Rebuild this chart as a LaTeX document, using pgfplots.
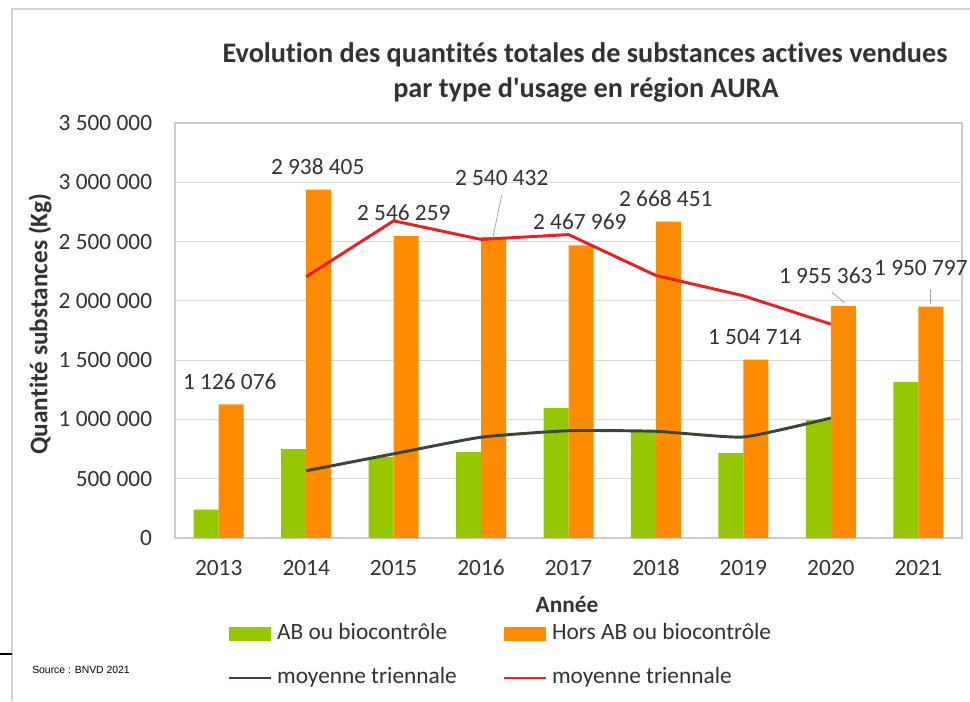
\documentclass[border=0pt]{standalone}
\usepackage{pgfplots}
\pgfplotsset{compat=1.18}
\usepackage{fontspec}
\setmainfont{Carlito}[Ligatures={TeXOff,NoCommon}]
\newfontfamily\arialfont{Liberation Sans}
\definecolor{agreen}{RGB}{150,200,0}
\definecolor{aorange}{RGB}{255,140,0}
\definecolor{adark}{RGB}{55,70,55}
\definecolor{ared}{RGB}{235,30,35}
\definecolor{atext}{RGB}{50,50,50}
\newcommand\lbl{\fontsize{17.5}{21}\selectfont}
\begin{document}
\begin{tikzpicture}
\useasboundingbox (0,0) rectangle (727.5pt,525.75pt);
\fill[white] (0,0) rectangle (727.5pt,525.75pt);
\begin{scope}[x=0.75pt,y=-0.75pt,yshift=525.75pt]
  \draw[gray!35, line width=0.9pt] (12,701) -- (12,9) -- (972,9);
  \draw[black, line width=1pt] (0,654) -- (12,654);
  \node[font=\bfseries\fontsize{21.2}{25}\selectfont, text=atext] at (585,55) {Evolution des quantités totales de substances actives vendues};
  \node[font=\bfseries\fontsize{21.2}{25}\selectfont, text=atext] at (586,90) {par type d'usage en région AURA};
  \node[font=\bfseries\fontsize{19}{22}\selectfont, text=atext, rotate=90] at (40,324) {Quantité substances (Kg)};
  \node[font=\bfseries\lbl, text=atext] at (567,605) {Année};
  \node[font=\arialfont\fontsize{7.8}{9}\selectfont, anchor=west, inner sep=0pt] at (32,670) {Source : BNVD 2021};
\end{scope}
\begin{axis}[
  at={(131.25pt,122.25pt)}, anchor=south west,
  width=590.25pt, height=311.25pt, scale only axis,
  xmin=-0.5, xmax=8.5, ymin=0, ymax=3500000,
  clip=false, scaled y ticks=false,
  xtick={0,1,2,3,4,5,6,7,8},
  xticklabels={2013,2014,2015,2016,2017,2018,2019,2020,2021},
  ytick={0,500000,1000000,1500000,2000000,2500000,3000000,3500000},
  yticklabels={0,500~000,1~000~000,1~500~000,2~000~000,2~500~000,3~000~000,3~500~000},
  ymajorgrids, grid style={draw=gray!30, line width=0.8pt},
  axis line style={draw=gray!40, line width=0.8pt},
  major tick length=0pt, tick style={draw=none},
  ticklabel style={font=\lbl, text=atext},
  yticklabel style={inner sep=0pt, xshift=-17pt},
  xticklabel style={inner sep=0pt, text height=11.1pt, text depth=0pt, yshift=-16.5pt},
  legend columns=2,
  legend style={at={(0.066,-0.205)}, anchor=north west, draw=none, fill=none,
    font=\lbl, text=atext, inner sep=0pt, row sep=17.75pt,
    nodes={inner sep=0pt, text height=12pt, text depth=3.5pt},
    /tikz/column 1/.style={column sep=3.75pt},
    /tikz/column 2/.style={column sep=34pt},
    /tikz/column 3/.style={column sep=3.75pt}},
  legend cell align=left,
]
\addplot[ybar, bar width=18.75pt, bar shift=-9.375pt, fill=agreen, draw=none,
  legend image code/.code={\fill[agreen] (0pt,-5.25pt) rectangle (31.5pt,5.25pt);}]
  coordinates {(0,240000) (1,750000) (2,685000) (3,725000) (4,1095000) (5,895000) (6,716000) (7,995000) (8,1315000)};
\addlegendentry{AB ou biocontrôle}
\addplot[ybar, bar width=18.75pt, bar shift=9.375pt, fill=aorange, draw=none,
  legend image code/.code={\fill[aorange] (0pt,-5.25pt) rectangle (31.5pt,5.25pt);}]
  coordinates {(0,1126076) (1,2938405) (2,2546259) (3,2540432) (4,2467969) (5,2668451) (6,1504714) (7,1955363) (8,1950797)};
\addlegendentry{Hors AB ou biocontrôle}
\addplot[adark, line width=2.2pt, mark=none, smooth, tension=0.3,
  legend image code/.code={\draw[adark, line width=2.2pt] (0pt,0pt) -- (31.5pt,0pt);}]
  coordinates {(1,567000) (2,710000) (3,850000) (4,905000) (5,900000) (6,852000) (7,1012000)};
\addlegendentry{moyenne triennale}
\addplot[ared, line width=2.2pt, mark=none,
  legend image code/.code={\draw[ared, line width=2.2pt] (0pt,0pt) -- (31.5pt,0pt);}]
  coordinates {(1,2203580) (2,2675032) (3,2518220) (4,2558951) (5,2213711) (6,2042843) (7,1803625)};
\addlegendentry{moyenne triennale}
\begin{scope}[every node/.style={font=\lbl, text=atext}]
\node at (axis cs:0.126,1315000) {1 126 076};
\node at (axis cs:1.132,3129000) {2 938 405};
\node at (axis cs:2.116,2741000) {2 546 259};
\node at (axis cs:3.236,3036000) {2 540 432};
\node at (axis cs:4.129,2665000) {2 467 969};
\node at (axis cs:5.112,2859000) {2 668 451};
\node at (axis cs:6.13,1695000) {1 504 714};
\node at (axis cs:6.942,2209000) {1 955 363};
\node at (axis cs:8.03,2277000) {1 950 797};
\end{scope}
\draw[gray!70, line width=0.6pt] (axis cs:3.236,2893000) -- (axis cs:3.134,2530000);
\draw[gray!70, line width=0.6pt] (axis cs:7.01,2075000) -- (axis cs:7.16,1982000);
\draw[gray!70, line width=0.6pt] (axis cs:8.143,2091000) -- (axis cs:8.143,1973000);
\end{axis}
\end{tikzpicture}
\end{document}
